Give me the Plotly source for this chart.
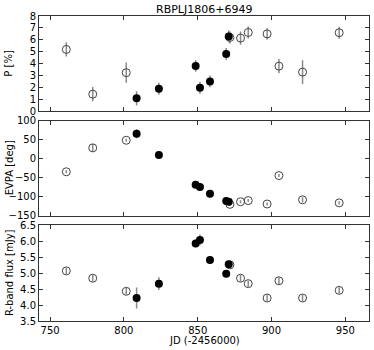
import plotly.graph_objects as go
from plotly.subplots import make_subplots

# Filled (closed) points
jd_f = [808.6, 823.7, 848.6, 851.5, 858.3, 869.3, 871.0]
p_f = [1.1, 1.9, 3.82, 1.98, 2.52, 4.82, 6.28]
p_f_err = [0.6, 0.5, 0.5, 0.5, 0.5, 0.5, 0.5]
evpa_f = [66, 10.5, -68, -74, -92, -111, -113]
evpa_f_err = [12, 4, 4, 4, 4, 5, 4]
flux_f = [4.22, 4.67, 5.93, 6.04, 5.41, 4.98, 5.28]
flux_f_err = [0.33, 0.2, 0.12, 0.17, 0.12, 0.1, 0.1]

# Open points
jd_o = [761.0, 778.9, 801.6, 871.8, 879.0, 884.2, 897.0, 905.0, 921.0, 945.8]
p_o = [5.2, 1.45, 3.25, 6.2, 6.15, 6.62, 6.5, 3.8, 3.3, 6.6]
p_o_err = [0.6, 0.6, 0.85, 0.5, 0.55, 0.5, 0.5, 0.6, 1.0, 0.5]
evpa_o = [-34, 29, 49, -120, -113, -110, -119, -44, -108, -116]
evpa_o_err = [4, 10, 4, 4, 4, 4, 4, 4, 7, 4]
flux_o = [5.07, 4.84, 4.43, 5.26, 4.84, 4.67, 4.22, 4.76, 4.22, 4.46]
flux_o_err = [0.1, 0.1, 0.1, 0.1, 0.1, 0.1, 0.1, 0.1, 0.1, 0.1]

x_ticks = [750, 800, 850, 900, 950]
y_titles = ["P [%]", "EVPA [deg]", "R-band flux [mJy]"]

W, H = 374, 350
ML, MR, MT, MB = 39, 5, 16, 29
PW, PH = W - ML - MR, H - MT - MB

fig = make_subplots(rows=3, cols=1, shared_xaxes=True, vertical_spacing=0.03)

err_col = "#8a8a8a"
panels = [
    (p_f, p_f_err, p_o, p_o_err),
    (evpa_f, evpa_f_err, evpa_o, evpa_o_err),
    (flux_f, flux_f_err, flux_o, flux_o_err),
]
for i, (yf, ef, yo, eo) in enumerate(panels, start=1):
    fig.add_trace(go.Scatter(
        x=jd_o, y=yo, mode="markers",
        marker=dict(symbol="circle-open", size=8, color="#444", line=dict(width=1, color="#444")),
        error_y=dict(type="data", array=eo, color=err_col, thickness=1.5, width=0),
        showlegend=False), row=i, col=1)
    fig.add_trace(go.Scatter(
        x=jd_f, y=yf, mode="markers",
        marker=dict(symbol="circle", size=8, color="black", line=dict(width=0)),
        error_y=dict(type="data", array=ef, color=err_col, thickness=1.5, width=0),
        showlegend=False), row=i, col=1)

font = dict(family="DejaVu Sans", size=10, color="black")
axis_common = dict(showline=True, linecolor="#333", linewidth=1, mirror="allticks",
                   ticks="inside", ticklen=4, tickcolor="#333", showgrid=False,
                   zeroline=False, tickfont=font, automargin=False)

for i in range(1, 4):
    fig.update_xaxes(range=[742.5, 966], tickvals=x_ticks, **axis_common, row=i, col=1)
fig.update_xaxes(showticklabels=False, row=1, col=1)
fig.update_xaxes(showticklabels=False, row=2, col=1)

fig.update_yaxes(range=[0, 8], dtick=1, tick0=0, **axis_common, row=1, col=1)
fig.update_yaxes(range=[-150, 100], dtick=50, tick0=0, **axis_common, row=2, col=1)
fig.update_yaxes(range=[3.5, 6.5], dtick=0.5, tick0=3.5, tickformat=".1f", **axis_common, row=3, col=1)

domains = [[0.687, 1.0], [0.345, 0.656], [0.0, 0.314]]
annotations = []
for d, t in zip(domains, y_titles):
    annotations.append(dict(text=t, textangle=-90, xref="paper", yref="paper",
                            x=(9 - ML) / PW, y=(d[0] + d[1]) / 2, xanchor="center",
                            yanchor="middle", showarrow=False, font=font))
annotations.append(dict(text="JD (-2456000)", xref="paper", yref="paper",
                        x=0.5, y=-(340.7 - (H - MB)) / PH, xanchor="center", yanchor="middle",
                        showarrow=False, font=font))
annotations.append(dict(text="RBPLJ1806+6949", xref="paper", yref="paper",
                        x=0.5, y=1 + (MT - 9) / PH, xanchor="center", yanchor="middle",
                        showarrow=False, font=dict(family="DejaVu Sans", size=11, color="black")))

fig.update_layout(
    width=W, height=H,
    margin=dict(l=ML, r=MR, t=MT, b=MB, autoexpand=False),
    plot_bgcolor="white", paper_bgcolor="white",
    yaxis=dict(domain=domains[0]),
    yaxis2=dict(domain=domains[1]),
    yaxis3=dict(domain=domains[2]),
    annotations=annotations,
    hovermode=False,
)

fig.write_html("out.html", config={"displayModeBar": False, "staticPlot": True},
               post_script="document.body.style.margin='0';")
